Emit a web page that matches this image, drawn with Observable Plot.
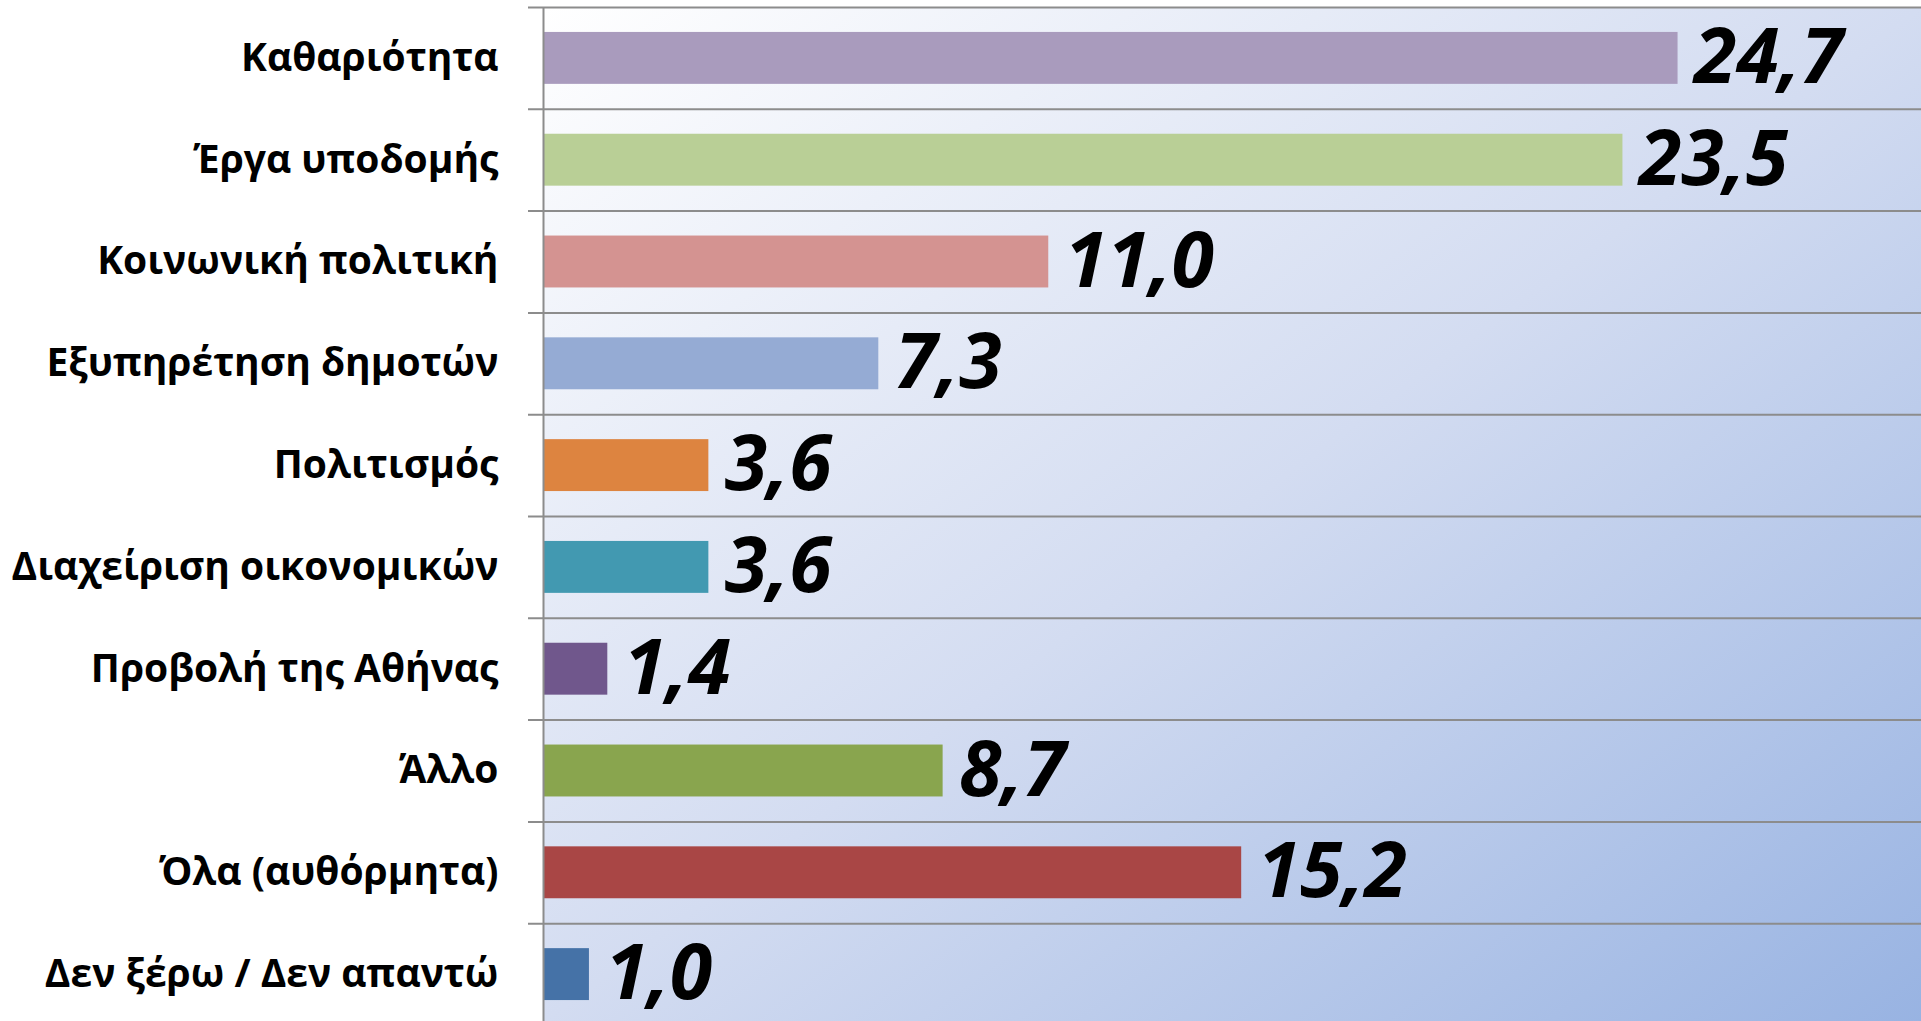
<!DOCTYPE html>
<html><head><meta charset="utf-8">
<script src="https://cdn.jsdelivr.net/npm/d3@7"></script>
<script src="https://cdn.jsdelivr.net/npm/@observablehq/plot@0.6"></script>
<style>html,body{margin:0;padding:0;background:#fff;overflow:hidden} svg{display:block}</style>
</head><body><div id="chart"></div>
<script>
const categories = ["Καθαριότητα","Έργα υποδομής","Κοινωνική πολιτική","Εξυπηρέτηση δημοτών","Πολιτισμός","Διαχείριση οικονομικών","Προβολή της Αθήνας","Άλλο","Όλα (αυθόρμητα)","Δεν ξέρω / Δεν απαντώ"];
const values = [24.7, 23.5, 11.0, 7.3, 3.6, 3.6, 1.4, 8.7, 15.2, 1.0];
const colors = ["#a99bbd","#b9cf96","#d49391","#95abd4","#dd8440","#4299b1","#70578c","#89a54e","#a94645","#4572a7"];
const xDomain = [0, 30];

const data = categories.map((c, i) => ({category: c, value: values[i], color: colors[i]}));

const W = 1921, H = 1021, plotTop = 7, plotBottom = 1025;
const step = (plotBottom - plotTop) / categories.length;

const chart = Plot.plot({
  width: W, height: H,
  marginLeft: 543, marginRight: 0, marginTop: plotTop, marginBottom: 0,
  style: {fontFamily: "'Open Sans', sans-serif", background: "transparent", color: "#000"},
  x: {domain: xDomain, axis: null},
  y: {domain: categories, range: [plotTop, plotBottom], paddingInner: 0.49, paddingOuter: 0.245, round: false, label: null},
  color: {type: "identity"},
  marks: [
    Plot.frame({fill: "url(#bgGrad)", stroke: "none"}),
    Plot.ruleY(categories, {y: d => d, dy: -step / 2, stroke: "#8c8c8c", strokeWidth: 2, insetLeft: -15}),
    Plot.barX(data, {x: "value", y: "category", fill: "color"}),
    Plot.ruleX([0], {stroke: "#8c8c8c", strokeWidth: 2}),
    Plot.axisY({tickSize: 0, tickPadding: 45, fontSize: 39, fontWeight: "bold", label: null}),
    Plot.text(data, {x: "value", y: "category", text: d => d.value.toFixed(1).replace(".", ","),
      textAnchor: "start", dx: 16, fontSize: 77, fontWeight: "bold", fontStyle: "italic", fill: "#000"})
  ]
});

const svg = d3.select(chart);
const defs = svg.insert("defs", ":first-child");
const g = defs.append("linearGradient").attr("id", "bgGrad")
  .attr("x1", 0).attr("y1", 0).attr("x2", 1).attr("y2", 1);
g.append("stop").attr("offset", "0%").attr("stop-color", "#ffffff");
g.append("stop").attr("offset", "50%").attr("stop-color", "#d3dcf1");
g.append("stop").attr("offset", "100%").attr("stop-color", "#98b3e2");

document.getElementById("chart").appendChild(chart);
</script>
</body></html>
